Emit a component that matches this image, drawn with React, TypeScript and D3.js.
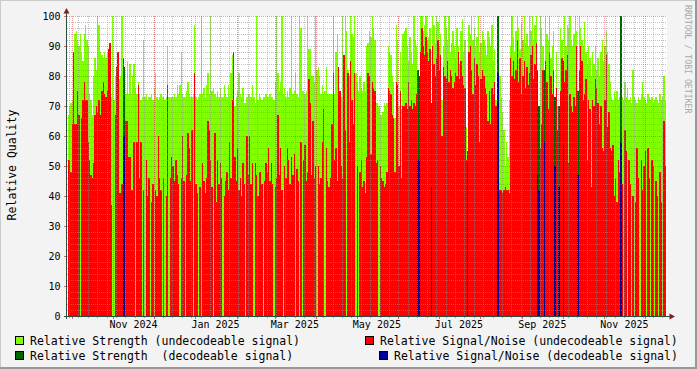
import React from 'react';
import * as d3 from 'd3';

// one value per day, starting at FIRST_DAY; null = day was decodeable
const FIRST_DAY = '2024-09-28';

const strength = [
  67, 70, 71, 72, 77, 94, 95, 92, 90, 94,
  88, 85, 94, 97, 92, 90, 74, 72, 67, 80,
  86, 82, 100, 97, 88, 87, 86, 88, 86, 88,
  86, 87, 73, 100, 72, 80, 83, 80, 79, 80,
  100, null, null, 74, 85, 74, 84, 74, 80, 84,
  76, 74, 78, 74, 72, 73, 92, 73, 74, 72,
  73, 73, 74, 72, 76, 81, 73, 72, 73, 74,
  73, 73, 72, 73, 90, 73, 73, 73, 73, 74,
  73, 77, 74, 77, 88, 74, 73, 73, 75, 78,
  74, 73, 73, 74, 97, 73, 72, 73, 74, 100,
  74, 76, 73, 77, 81, 74, 100, 75, 76, 74,
  73, 75, 73, 76, 73, 73, 77, 74, 73, 77,
  73, 81, 87, 87, 70, 73, 75, 81, 74, 73,
  76, 71, 71, 73, 74, 74, 73, 77, 73, 71,
  100, 72, 74, 73, 72, 73, 73, 74, 73, 73,
  74, 73, 73, 72, 78, 100, 81, 75, 78, 100,
  74, 76, 73, 75, 73, 76, 100, 74, 75, 81,
  74, 73, 100, 96, 75, 75, 74, 75, 100, 89,
  89, 80, 80, 78, 100, 82, 83, 80, 74, 77,
  74, 75, 83, 74, 74, 74, 74, 100, 74, 88,
  94, 78, 72, 73, 100, 80, 100, 95, 82, 80,
  100, 94, 93, 100, 81, 78, 75, 80, 76, 75,
  78, 75, 90, 91, 95, 93, 100, 96, 92, 71,
  71, 70, 67, 67, 68, 71, 70, 71, 90, 88,
  87, 80, 78, 66, 97, 92, 70, 88, 69, 94,
  95, 96, 90, 85, 93, 88, 84, 100, 92, 90,
  null, null, 100, 100, 95, 97, 100, 92, 93, 96,
  null, 100, 97, 91, 100, 98, 90, 94, 72, 90,
  100, 96, 92, 100, 88, 91, 95, 90, 86, 96,
  90, 84, 95, 99, 88, 92, 63, null, 97, 94,
  100, 92, 96, 90, 93, 100, 88, 91, 95, 92,
  90, 87, 95, 93, 90, 97, 85, 89, 72, null,
  null, 80, 73, 68, 62, 50, 58, 53, 72, 90,
  100, 93, 88, 95, 100, 96, 89, 98, 92, 100,
  91, 94, 90, 100, 95, 100, 92, 97, 100, null,
  null, 100, 96, 90, null, 100, 94, 92, 100, 86,
  90, 95, null, 88, 70, null, 96, 92, null, 100,
  90, 97, 96, 100, 92, 90, 94, 100, 95, null,
  100, 96, 92, 90, 98, 88, 84, 90, 86, 80,
  88, 84, 90, 82, 86, 80, 88, 92, 85, 90,
  95, 88, 84, 78, 73, 72, 75, 73, 75, 72,
  73, null, 73, 72, 78, 73, 76, 72, 73, 71,
  82, 73, 72, 71, 73, 72, 74, 78, 73, 72,
  71, 74, 73, 72, 73, 71, 72, 73, 72, 71,
  74, 72, 73, 80, 72,
];

const snr = [
  52, 52, 48, 64, 88, 64, 64, 75, 67, 0,
  66, 72, 78, 72, 72, 58, 52, 47, 46, 51,
  67, 70, 68, 72, 67, 75, 78, 74, 73, 75,
  89, 91, 37, 0, 0, 67, 83, 88, 41, 41,
  44, null, null, 65, 65, 53, 53, 42, 42, 58,
  0, 58, 77, 46, 58, 0, 42, 0, 52, 40,
  46, 0, 38, 44, 0, 42, 40, 60, 46, 42,
  0, 46, 0, 40, 77, 0, 46, 53, 50, 45,
  52, 47, 44, 0, 46, 60, 45, 0, 47, 61,
  56, 45, 62, 0, 81, 44, 41, 0, 43, 0,
  51, 45, 41, 46, 65, 62, 52, 43, 0, 61,
  38, 52, 44, 51, 46, 0, 40, 45, 48, 42,
  58, 46, 72, 88, 53, 45, 56, 42, 46, 40,
  51, 44, 0, 60, 47, 60, 44, 51, 0, 51,
  47, 40, 48, 48, 44, 0, 45, 51, 48, 56,
  45, 51, 44, 0, 43, 46, 67, 47, 56, 42,
  0, 50, 46, 56, 52, 44, 53, 47, 54, 0,
  49, 45, 0, 58, 0, 52, 57, 45, 48, 79,
  71, 47, 65, 46, 50, 0, 50, 44, 46, 58,
  69, 0, 56, 45, 43, 46, 64, 81, 52, 56,
  45, 83, 75, 50, 46, 87, 62, 0, 81, 58,
  85, 72, 64, 81, 0, 50, 0, 48, 52, 43,
  45, 41, 53, 81, 80, 54, 78, 76, 75, 51,
  52, 0, 50, 46, 45, 43, 44, 48, 76, 75,
  74, 67, 66, 48, 78, 77, 50, 75, 46, 70,
  70, 71, 69, 78, 70, 72, 69, 71, 70, 74,
  null, null, 88, 96, 90, 87, 93, 88, 85, 89,
  null, 90, 84, 80, 86, 92, 82, 87, 60, 83,
  80, 79, 85, 78, 82, 80, 76, 78, 81, 80,
  88, 79, 85, 80, 77, 76, 52, null, 88, 90,
  82, 74, 86, 77, 84, 80, 58, 79, 82, 80,
  76, 74, 65, 75, 64, 76, 74, 78, 70, null,
  null, 42, 42, 41, 42, 43, 42, 42, 41, 86,
  80, 85, 79, 82, 92, 78, 86, 74, 80, 85,
  76, 83, 77, 81, 87, 90, 79, 84, 91, null,
  null, 56, 64, 82, null, 85, 78, 69, 88, 80,
  74, 82, null, 76, 62, null, 75, 86, null, 78,
  82, 87, 51, 74, 70, 68, 73, 70, 90, null,
  82, 90, 85, 72, 74, 79, 52, 72, 69, 43,
  72, 70, 79, 76, 71, 64, 70, 56, 55, 72,
  87, 63, 68, 56, 55, 57, 40, 46, 38, 52,
  48, null, 44, 0, 62, 55, 0, 52, 44, 0,
  40, 0, 38, 56, 46, 0, 52, 42, 50, 55,
  0, 56, 46, 0, 52, 50, 0, 45, 40, 0,
  48, 38, 0, 65, 50,
];

// days on which the signal was decodeable
const decodeDates = [
  '2024-11-08', '2024-11-09', '2025-06-15', '2025-06-16', '2025-06-25', '2025-07-22',
  '2025-08-13', '2025-08-14', '2025-09-12', '2025-09-13', '2025-09-17', '2025-09-25',
  '2025-09-28', '2025-10-01', '2025-10-12', '2025-11-13',
];
const decodeStrength = [86, 83, 82, 80, 71, 55, 100, 100, 82, 70, 82, 73, 70, 85, 75, 100];
const decodeSnr = [60, 60, 52, 52, 43, 51, 81, 81, 47, 42, 58, 50, 43, 57, 47, 58];

const yTicks = [0, 10, 20, 30, 40, 50, 60, 70, 80, 90, 100];

const legendItems = [
  { label: 'Relative Strength (undecodeable signal)', color: '#80FF00', x: 15, row: 0 },
  { label: 'Relative Signal/Noise (undecodeable signal)', color: '#FF0000', x: 365, row: 0 },
  { label: 'Relative Strength  (decodeable signal)', color: '#006600', x: 15, row: 1 },
  { label: 'Relative Signal/Noise (decodeable signal)', color: '#000099', x: 379, row: 1 },
];

const W = 697;
const H = 369;
const X0 = 67;
const X1 = 667;
const Y0 = 316;
const Y1 = 16;
const FONT = '"DejaVu Sans Mono", monospace';

export default function App() {
  const parse = d3.timeParse('%Y-%m-%d');
  const first = parse(FIRST_DAY) as Date;
  const days = strength.map((_, i) => d3.timeDay.offset(first, i));

  const x = d3
    .scaleTime()
    .domain([new Date(2024, 8, 27, 14, 0), new Date(2025, 11, 17, 16, 20)])
    .range([X0, X1]);
  const y = d3.scaleLinear().domain([0, 100]).range([Y0, Y1]);

  const [t0, t1] = x.domain();
  const months = d3.timeMonth.range(t0, t1);
  const weeks = d3.timeSunday.range(t0, t1);
  const labelMonths = months.filter((m) => m.getMonth() % 2 === 0);
  const fmt = d3.timeFormat('%b %Y');
  const minorY = d3.range(0, 101, 2).filter((v) => v % 10 !== 0);

  const bar = (day: Date, v: number | null, color: string, key: string) => {
    if (v == null || v <= 0) return null;
    const xa = x(day);
    const xb = x(d3.timeDay.offset(day, 1));
    return (
      <rect key={key} x={xa} y={y(v)} width={xb - xa} height={y(0) - y(v)} fill={color} />
    );
  };

  const decDays = decodeDates.map((d) => parse(d) as Date);

  return (
    <svg
      width={W}
      height={H}
      style={{ position: 'absolute', left: 0, top: 0, display: 'block' }}
      fontFamily={FONT}
    >
      <rect x={0} y={0} width={W} height={H} fill="#F3F3F3" />
      <rect x={0} y={0} width={W} height={1} fill="#CBCBCB" />
      <rect x={0} y={0} width={1} height={H} fill="#CBCBCB" />
      <rect x={0} y={H - 2} width={W} height={2} fill="#999999" />
      <rect x={W - 2} y={0} width={2} height={H} fill="#999999" />

      <rect x={X0} y={Y1} width={X1 - X0} height={Y0 - Y1} fill="#FFFFFF" />

      <g shapeRendering="crispEdges">
        {days.map((d, i) => bar(d, strength[i], '#80FF00', 's' + i))}
        {days.map((d, i) => bar(d, snr[i], '#FF0000', 'r' + i))}
        {decDays.map((d, i) => bar(d, decodeStrength[i], '#006600', 'ds' + i))}
        {decDays.map((d, i) => bar(d, decodeSnr[i], '#000099', 'dr' + i))}
      </g>

      {/* grid on top, like rrdtool */}
      <g shapeRendering="crispEdges" strokeDasharray="1,1">
        {weeks.map((w, i) => (
          <line key={'wg' + i} x1={Math.round(x(w)) + 0.5} x2={Math.round(x(w)) + 0.5} y1={Y1} y2={Y0}
            stroke="rgba(143,143,143,0.55)" />
        ))}
        {minorY.map((v) => (
          <line key={'hg' + v} x1={X0} x2={X1} y1={y(v) + 0.5} y2={y(v) + 0.5} stroke="rgba(143,143,143,0.55)" />
        ))}
        {months.map((m, i) => (
          <line key={'mg' + i} x1={Math.round(x(m)) + 0.5} x2={Math.round(x(m)) + 0.5} y1={Y1} y2={Y0}
            stroke="rgba(233,33,33,0.45)" />
        ))}
        {yTicks.map((v) => (
          <line key={'yg' + v} x1={X0} x2={X1} y1={y(v) + 0.5} y2={y(v) + 0.5} stroke="rgba(233,33,33,0.45)" />
        ))}
      </g>

      {/* ticks outside the canvas */}
      <g shapeRendering="crispEdges">
        {weeks.map((w, i) => (
          <line key={'wt' + i} x1={Math.round(x(w)) + 0.5} x2={Math.round(x(w)) + 0.5} y1={Y0} y2={Y0 + 2}
            stroke="rgba(143,143,143,0.8)" />
        ))}
        {months.map((m, i) => (
          <line key={'mt' + i} x1={Math.round(x(m)) + 0.5} x2={Math.round(x(m)) + 0.5} y1={Y0} y2={Y0 + 3}
            stroke="rgba(233,33,33,0.7)" />
        ))}
        {yTicks.map((v) => (
          <line key={'yt' + v} x1={X0 - 3} x2={X0} y1={y(v) + 0.5} y2={y(v) + 0.5} stroke="rgba(233,33,33,0.7)" />
        ))}
      </g>

      {/* axes */}
      <g shapeRendering="crispEdges">
        <line x1={X0 - 3} x2={X1 + 3} y1={Y0 + 0.5} y2={Y0 + 0.5} stroke="#2C4D43" />
        <line x1={X0 - 0.5} x2={X0 - 0.5} y1={Y0 + 3} y2={Y1 - 3} stroke="#2C4D43" />
      </g>
      <path d={`M${X1 + 2.5},${Y0 - 2.5} L${X1 + 8},${Y0 + 0.5} L${X1 + 2.5},${Y0 + 3.5} Z`} fill="#7F1F1F" />
      <path d={`M${X0 - 3.5},${Y1 - 2.5} L${X0 - 0.5},${Y1 - 8} L${X0 + 2.5},${Y1 - 2.5} Z`} fill="#7F1F1F" />

      {/* y tick labels */}
      {yTicks.map((v) => (
        <text key={'yl' + v} x={60.5} y={y(v) + 3.8} fontSize={10} textAnchor="end" fill="#000">
          {v}
        </text>
      ))}

      {/* x labels centred half a month after the month start */}
      {labelMonths.map((m, i) => (
        <text key={'xl' + i} x={x(d3.timeDay.offset(m, 15))} y={327.5} fontSize={10} textAnchor="middle" fill="#000">
          {fmt(m)}
        </text>
      ))}

      <text transform="translate(16,165) rotate(-90)" fontSize={11.5} textAnchor="middle" fill="#000">
        Relative Quality
      </text>

      <text transform="translate(685,5) rotate(90)" fontSize={8.2} fill="#A8A8A8">
        RRDTOOL / TOBI OETIKER
      </text>

      {legendItems.map((it) => {
        const top = it.row === 0 ? 336 : 351;
        return (
          <g key={it.label}>
            <rect x={it.x + 0.5} y={top + 0.5} width={8} height={8} fill={it.color} stroke="#000" shapeRendering="crispEdges" />
            <text x={it.x + 15} y={top + 8.8} fontSize={11.5} fill="#000" style={{ whiteSpace: 'pre' }}>
              {it.label}
            </text>
          </g>
        );
      })}
    </svg>
  );
}
